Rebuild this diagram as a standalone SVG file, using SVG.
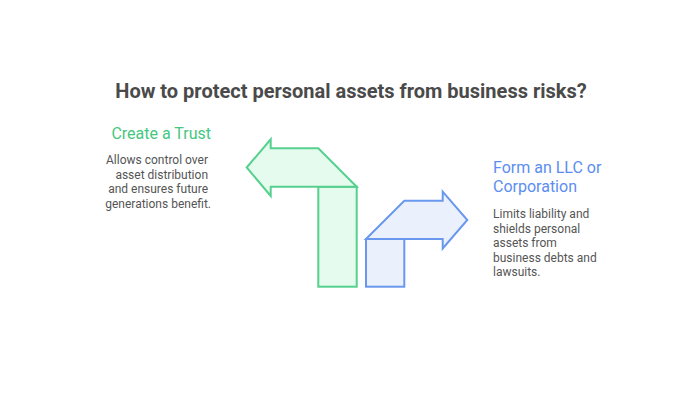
<svg xmlns="http://www.w3.org/2000/svg" width="700" height="400" viewBox="0 0 700 400">
<style>
.title{font-family:Roboto,"Liberation Sans",sans-serif;font-weight:bold;font-size:20px;fill:#4a4a4a}
.head{font-family:Roboto,"Liberation Sans",sans-serif;font-size:16px}
.body{font-family:Roboto,"Liberation Sans",sans-serif;font-size:12px;fill:#555555}
.g{fill:#e4fbee;stroke:#55d08e;stroke-width:2;stroke-linejoin:miter}
.b{fill:#eaf1fd;stroke:#6a98ee;stroke-width:2;stroke-linejoin:miter}
</style>
<rect width="700" height="400" fill="#ffffff"/>
<text class="title" x="351" y="98" text-anchor="middle">How to protect personal assets from business risks?</text>
<g id="connectors">
<g id="green-arrow">
<rect class="g" x="318.3" y="186.7" width="38.4" height="100"/>
<polygon class="g" points="246.7,167.5 270.7,139.3 270.7,148.3 318.3,148.3 356.7,186.7 270.7,186.7 270.7,196"/>
</g>
<g id="blue-arrow">
<rect class="b" x="366" y="239" width="38.3" height="47.7"/>
<polygon class="b" points="366,239 404.3,200.7 442.7,200.7 442.7,191.7 467.3,220 442.7,248.5 442.7,239"/>
</g>
</g>
<g id="node-trust">
<text class="head" x="211" y="139" text-anchor="end" fill="#45c77f">Create a Trust</text>
<text class="body" text-anchor="end">
<tspan x="211" y="164">Allows control over</tspan>
<tspan x="211" y="178.5">asset distribution</tspan>
<tspan x="211" y="193">and ensures future</tspan>
<tspan x="211" y="207.5">generations benefit.</tspan>
</text>
</g>
<g id="node-llc">
<text class="head" fill="#5b8ef0">
<tspan x="493" y="173">Form an LLC or</tspan>
<tspan x="493" y="192">Corporation</tspan>
</text>
<text class="body">
<tspan x="493" y="218">Limits liability and</tspan>
<tspan x="493" y="232.5">shields personal</tspan>
<tspan x="493" y="247">assets from</tspan>
<tspan x="493" y="261.5">business debts and</tspan>
<tspan x="493" y="276">lawsuits.</tspan>
</text>
</g>
</svg>
